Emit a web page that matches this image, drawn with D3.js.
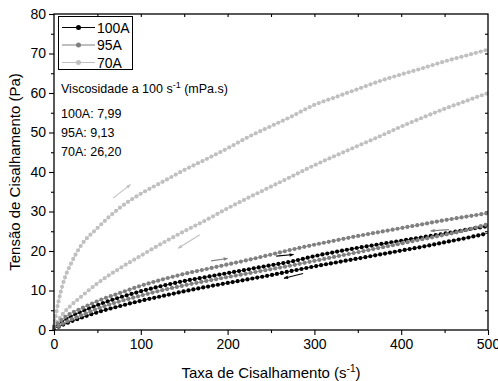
<!DOCTYPE html>
<meta charset="utf-8">
<head>
  <title>Curvas de fluxo</title>
</head>

<style>
body { margin: 0; background: #fff; }
text { font-family: "Liberation Sans", Arial, sans-serif; fill: #000; }
.frame { fill: none; stroke: #000; stroke-width: 1.3; }
</style>

<body>
  <svg width="498" height="381"></svg>

  <script src="https://cdn.jsdelivr.net/npm/d3@7"></script>
  <script>
// shear rate (s-1) at which each curve was read
var rates = [0, 5, 10, 20, 30, 50, 75, 100, 125, 150, 175, 200, 225, 250, 275, 300, 325, 350, 375, 400, 425, 450, 475, 500];

// shear stress (Pa), ramp up and ramp down
var up70   = [1.0, 7.0, 11.5, 17.0, 21.0, 25.8, 30.8, 34.5, 37.5, 40.5, 43.2, 46.0, 49.0, 51.6, 54.2, 57.0, 59.0, 61.0, 63.0, 64.7, 66.3, 68.0, 69.5, 71.0];
var down70 = [1.0, 2.5, 4.0, 6.3, 8.2, 11.8, 15.5, 18.8, 22.0, 25.0, 27.8, 30.8, 33.6, 36.3, 39.0, 41.7, 44.2, 46.6, 49.0, 51.5, 53.8, 56.0, 58.0, 60.0];
var up95   = [0.8, 1.8, 2.8, 4.3, 5.3, 7.3, 9.3, 11.2, 12.8, 14.2, 15.4, 16.6, 17.8, 19.1, 20.4, 21.6, 22.7, 23.8, 24.8, 25.8, 26.8, 27.8, 28.7, 29.6];
var down95 = [0.5, 1.0, 1.6, 2.7, 3.6, 5.4, 7.2, 8.7, 10.1, 11.3, 12.4, 13.4, 14.4, 15.4, 16.4, 17.5, 18.6, 19.7, 20.8, 21.9, 23.0, 24.1, 25.3, 26.8];
var up100  = [0.6, 1.4, 2.2, 3.5, 4.5, 6.3, 8.2, 9.8, 11.2, 12.4, 13.4, 14.4, 15.4, 16.4, 17.4, 18.7, 19.8, 20.8, 21.7, 22.6, 23.5, 24.4, 25.4, 26.3];
var down100 = [0.4, 0.8, 1.3, 2.2, 3.0, 4.5, 6.0, 7.4, 8.6, 9.8, 10.9, 11.9, 12.9, 13.9, 15.0, 16.1, 17.1, 18.1, 19.1, 20.1, 21.1, 22.2, 23.3, 24.5];

var names = ["100A", "95A", "70A"];
var colors = ["#000000", "#808080", "#c0c0c0"];

// direction arrows [series index, x1, y1, x2, y2] in data units
var arrows = [
  [2, 68, 33.4, 88, 36.8],
  [2, 168, 24.1, 143, 20.7],
  [1, 181, 17.5, 200, 18.1],
  [0, 256, 18.7, 276, 19.1],
  [0, 287, 14.3, 265, 13.1],
  [1, 455, 25.4, 434, 25.1]
];

var notes = ["100A: 7,99", "95A: 9,13", "70A: 26,20"];
var xTicks = [0, 100, 200, 300, 400, 500];
var yTicks = [0, 10, 20, 30, 40, 50, 60, 70, 80];

var series = [
  { k: 2, v: up70 },
  { k: 2, v: down70 },
  { k: 0, v: down100 },
  { k: 0, v: up100 },
  { k: 1, v: down95 },
  { k: 1, v: up95 }
];

var svg = d3.select('svg');

var x = d3.scaleLinear().domain([0, 500]).range([54, 488]);
var y = d3.scaleLinear().domain([0, 80]).range([330, 14]);

function noDomain(g) { g.select('.domain').remove(); }

// minor ticks
svg.append('g')
  .attr('transform', 'translate(0,330)')
  .call(d3.axisBottom(x).tickValues(d3.range(50, 500, 100)).tickSize(3).tickFormat(''))
  .call(noDomain);
svg.append('g')
  .attr('transform', 'translate(54,0)')
  .call(d3.axisLeft(y).tickValues(d3.range(5, 80, 10)).tickSize(3).tickFormat(''))
  .call(noDomain);

// top and right: small inward ticks
svg.append('g')
  .attr('transform', 'translate(0,14)')
  .call(d3.axisBottom(x).tickValues(d3.range(50, 500, 50)).tickSize(3).tickFormat(''))
  .call(noDomain);
svg.append('g')
  .attr('transform', 'translate(488,0)')
  .call(d3.axisLeft(y).tickValues(d3.range(5, 80, 5)).tickSize(3).tickFormat(''))
  .call(noDomain);

// major ticks with labels
svg.append('g')
  .attr('transform', 'translate(0,330)')
  .call(d3.axisBottom(x).tickValues(xTicks).tickSize(5).tickPadding(4))
  .call(function(g) {
    noDomain(g);
    g.selectAll('text').attr('font-size', 14);
  });
svg.append('g')
  .attr('transform', 'translate(54,0)')
  .call(d3.axisLeft(y).tickValues(yTicks).tickSize(5).tickPadding(3))
  .call(function(g) {
    noDomain(g);
    g.selectAll('text').attr('font-size', 14);
  });

svg.selectAll('.tick line').attr('stroke', '#000').attr('stroke-width', 1.1);

// curves: thin connecting line plus round symbols along it
var line = d3.line()
  .x(function(d) { return x(d[0]); })
  .y(function(d) { return y(d[1]); })
  .curve(d3.curveMonotoneX);

var plot = svg.append('g');

series.forEach(function(s) {
  var pts = rates.map(function(r, i) { return [r, s.v[i]]; });
  plot.append('path')
    .attr('d', line(pts))
    .attr('fill', 'none')
    .attr('stroke', colors[s.k])
    .attr('stroke-width', 0.8);
  plot.append('path')
    .attr('d', line(pts))
    .attr('fill', 'none')
    .attr('stroke', colors[s.k])
    .attr('stroke-width', 4.2)
    .attr('stroke-linecap', 'round')
    .attr('stroke-dasharray', '0 5');
});

// arrowheads
var defs = svg.append('defs');
colors.forEach(function(c, i) {
  defs.append('marker')
    .attr('id', 'arr' + i)
    .attr('viewBox', '0 0 10 10')
    .attr('refX', 9).attr('refY', 5)
    .attr('markerWidth', 7).attr('markerHeight', 4)
    .attr('orient', 'auto')
    .append('path')
    .attr('d', 'M0,1L10,5L0,9Z')
    .attr('fill', c);
});

plot.selectAll('.arrow')
  .data(arrows)
  .enter()
  .append('line')
  .attr('x1', function(d) { return x(d[1]); })
  .attr('y1', function(d) { return y(d[2]); })
  .attr('x2', function(d) { return x(d[3]); })
  .attr('y2', function(d) { return y(d[4]); })
  .attr('stroke', function(d) { return colors[d[0]]; })
  .attr('stroke-width', 1.1)
  .attr('marker-end', function(d) { return 'url(#arr' + d[0] + ')'; });

// frame
svg.append('rect')
  .attr('class', 'frame')
  .attr('x', 54).attr('y', 14)
  .attr('width', 434).attr('height', 316);

// legend
var leg = svg.append('g');
leg.append('rect')
  .attr('x', 58.5).attr('y', 16.5)
  .attr('width', 74).attr('height', 53)
  .attr('fill', '#fff')
  .attr('stroke', '#000')
  .attr('stroke-width', 1);
names.forEach(function(n, i) {
  var yy = 27.5 + i * 17.5;
  leg.append('line')
    .attr('x1', 62).attr('x2', 95)
    .attr('y1', yy).attr('y2', yy)
    .attr('stroke', colors[i]).attr('stroke-width', 1.2);
  leg.append('circle')
    .attr('cx', 78.5).attr('cy', yy).attr('r', 2.5)
    .attr('fill', colors[i]);
  leg.append('text')
    .attr('x', 97).attr('y', yy + 5)
    .attr('font-size', 14)
    .text(n);
});

// viscosity note
var vt = svg.append('text')
  .attr('x', 61).attr('y', 93)
  .attr('font-size', 12.5);
vt.append('tspan').text('Viscosidade a 100 s');
vt.append('tspan').attr('dy', -5).attr('font-size', 9).text('-1');
vt.append('tspan').attr('dy', 5).text(' (mPa.s)');

svg.selectAll('.note')
  .data(notes)
  .enter()
  .append('text')
  .attr('x', 61)
  .attr('y', function(d, i) { return 117.5 + i * 19; })
  .attr('font-size', 12.5)
  .text(function(d) { return d; });

// axis titles
var xt = svg.append('text')
  .attr('x', 271).attr('y', 378)
  .attr('text-anchor', 'middle')
  .attr('font-size', 15);
xt.append('tspan').text('Taxa de Cisalhamento (s');
xt.append('tspan').attr('dy', -6).attr('font-size', 10).text('-1');
xt.append('tspan').attr('dy', 6).text(')');

svg.append('text')
  .attr('transform', 'translate(20,172) rotate(-90)')
  .attr('text-anchor', 'middle')
  .attr('font-size', 15)
  .text('Tensão de Cisalhamento (Pa)');

  </script>
</body>
</html>
